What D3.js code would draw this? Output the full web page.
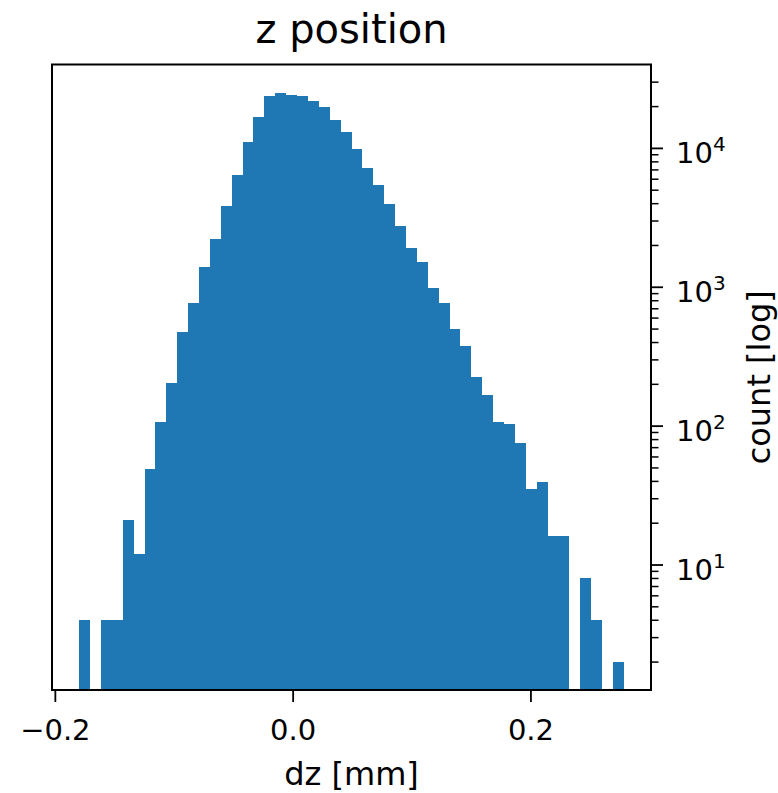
<!DOCTYPE html>
<html>
<head>
<meta charset="utf-8">
<script src="https://cdn.jsdelivr.net/npm/d3@7"></script>
<style>
  body { margin: 0; background: #fff; }
  text { font-family: "DejaVu Sans", sans-serif; fill: #000; }
</style>
</head>
<body>
<div id="chart"></div>
<script>
// histogram counts, 50 equal bins
const counts = [4, 0, 4, 4, 21, 12, 49, 107, 204, 474,
                766, 1390, 2223, 3793, 6340, 11120, 16630, 23790, 24880, 24060,
                23790, 21920, 19610, 15990, 13120, 9860, 7200, 5430, 3920, 2738,
                1915, 1510, 973, 766, 493, 374, 223, 166, 107, 103,
                75, 35, 39, 16, 16, 0, 8, 4, 0, 2];
// range of the binned dz values [mm]
const dzRange = [-0.1795, 0.2785];
const xTicks = [-0.2, 0.0, 0.2];
const yMajorTicks = [10, 100, 1000, 10000];

const W = 778, H = 793;
const margin = {top: 64.5, right: 127, bottom: 103, left: 52};
const width = W - margin.left - margin.right;
const height = H - margin.top - margin.bottom;

const svg = d3.select('#chart')
    .append('svg')
    .attr('width', W)
    .attr('height', H);

const g = svg.append('g')
    .attr('transform', `translate(${margin.left}, ${margin.top})`);

// bins
const binW = (dzRange[1] - dzRange[0]) / counts.length;
const bins = counts.map((c, i) => ({x0: dzRange[0] + i * binW, x1: dzRange[0] + (i + 1) * binW, count: c}));

// 5% margins like matplotlib autoscale
const xPad = 0.05 * (dzRange[1] - dzRange[0]);
const x = d3.scaleLinear()
    .domain([dzRange[0] - xPad, dzRange[1] + xPad])
    .range([0, width]);

const pos = counts.filter(c => c > 0);
const lo = Math.log10(d3.min(pos)), hi = Math.log10(d3.max(pos));
const yPad = 0.05 * (hi - lo);
const y = d3.scaleLog()
    .domain([Math.pow(10, lo - yPad), Math.pow(10, hi + yPad)])
    .range([height, 0]);

// bars
g.selectAll('rect.bar')
    .data(bins.filter(d => d.count > 0))
    .enter()
    .append('rect')
    .attr('class', 'bar')
    .attr('x', d => x(d.x0))
    .attr('width', d => x(d.x1) - x(d.x0))
    .attr('y', d => y(d.count))
    .attr('height', d => height - y(d.count))
    .attr('fill', '#1f77b4')
    .attr('shape-rendering', 'crispEdges');

// bottom axis
const xAxis = g.append('g')
    .attr('transform', `translate(0, ${height})`)
    .call(d3.axisBottom(x).tickValues(xTicks).tickFormat(d3.format('.1f')).tickSize(12).tickPadding(17));
xAxis.select('.domain').remove();
xAxis.selectAll('line').attr('stroke', '#000').attr('stroke-width', 1.8);
xAxis.selectAll('text').style('font-size', '29px').attr('fill', '#000');

// right axis: minor ticks
const minor = y.ticks().filter(v => yMajorTicks.indexOf(v) < 0);
const yMinor = g.append('g')
    .attr('transform', `translate(${width}, 0)`)
    .call(d3.axisRight(y).tickValues(minor).tickFormat('').tickSize(7.5));
yMinor.select('.domain').remove();
yMinor.selectAll('line').attr('stroke', '#000').attr('stroke-width', 1.5);

// right axis: major ticks with 10^n labels
const yMajor = g.append('g')
    .attr('transform', `translate(${width}, 0)`)
    .call(d3.axisRight(y).tickValues(yMajorTicks).tickFormat('').tickSize(12).tickPadding(13));
yMajor.select('.domain').remove();
yMajor.selectAll('line').attr('stroke', '#000').attr('stroke-width', 1.8);
yMajor.selectAll('.tick text')
    .attr('dy', null)
    .attr('y', 15)
    .style('font-size', '29px')
    .each(function(d) {
        const t = d3.select(this);
        t.append('tspan').text('10');
        t.append('tspan')
            .attr('dy', -12)
            .style('font-size', '20px')
            .text(Math.round(Math.log10(d)));
    });

// frame
g.append('rect')
    .attr('width', width)
    .attr('height', height)
    .attr('fill', 'none')
    .attr('stroke', '#000')
    .attr('stroke-width', 2);

// title and labels
svg.append('text')
    .attr('x', margin.left + width / 2)
    .attr('y', 43)
    .attr('text-anchor', 'middle')
    .style('font-size', '40px')
    .text('z position');

svg.append('text')
    .attr('x', margin.left + width / 2)
    .attr('y', 785)
    .attr('text-anchor', 'middle')
    .style('font-size', '32px')
    .text('dz [mm]');

svg.append('text')
    .attr('transform', `translate(770, ${margin.top + height / 2}) rotate(-90)`)
    .attr('text-anchor', 'middle')
    .style('font-size', '32px')
    .text('count [log]');
</script>
</body>
</html>
